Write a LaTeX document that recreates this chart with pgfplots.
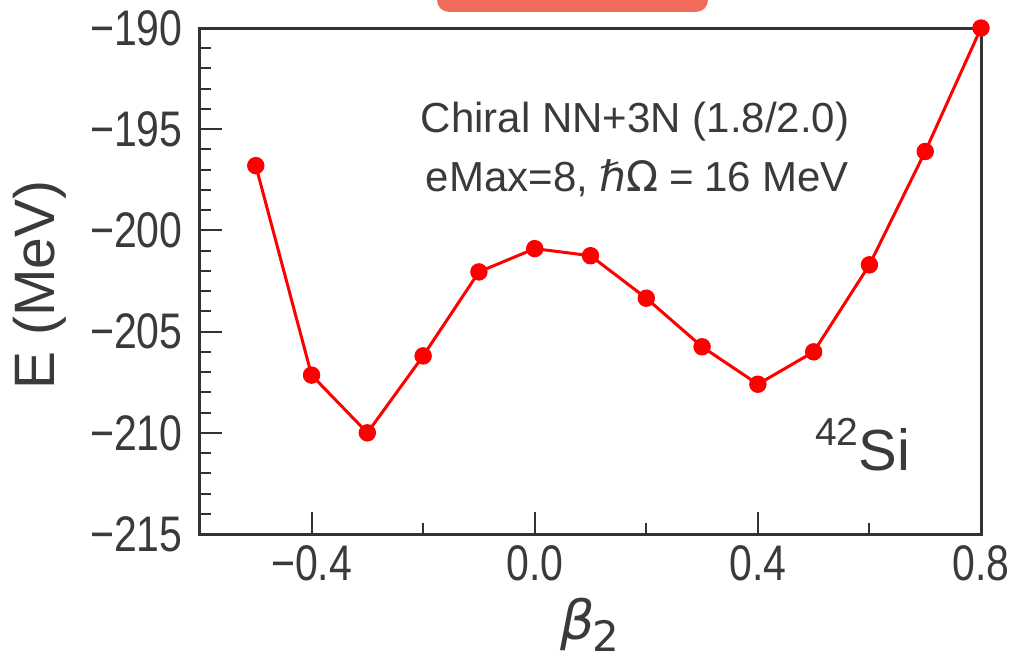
\documentclass[border=0pt]{standalone}
\usepackage{fontspec}
\setmainfont{Liberation Sans}
\newfontfamily\tickfont[FakeStretch=0.82]{Liberation Sans}
\newfontfamily\dejavu{DejaVu Sans}
\usepackage{pgfplots}
\pgfplotsset{compat=1.18}
\definecolor{axisgray}{HTML}{333333}
\definecolor{textgray}{HTML}{3A3A3A}
\definecolor{tabred}{RGB}{242,108,92}

\pgfplotstableread{
beta   E
-0.5  -196.8
-0.4  -207.15
-0.3  -210.0
-0.2  -206.2
-0.1  -202.05
 0.0  -200.9
 0.1  -201.25
 0.2  -203.35
 0.3  -205.75
 0.4  -207.6
 0.5  -206.0
 0.6  -201.7
 0.7  -196.1
 0.8  -190.0
}\energy

\begin{document}
\begin{tikzpicture}
\useasboundingbox (-100pt,-63pt) rectangle (407.5pt,267pt);
% tab at the top edge
\fill[tabred, rounded corners=6pt] (118.5pt,261pt) rectangle (254pt,290pt);
\begin{axis}[
  at={(0,0)}, anchor=south west,
  scale only axis, width=390.5pt, height=253pt,
  xmin=-0.6, xmax=0.8, ymin=-215, ymax=-190,
  axis line style={axisgray, line width=1.5pt},
  tick style={axisgray, line width=1pt},
  tick align=inside, tick pos=left,
  major tick length=11pt, minor tick length=5.5pt,
  xtick={-0.4,0,0.4,0.8}, minor xtick={-0.2,0.2,0.6},
  xticklabels={−0.4,0.0,0.4,0.8},
  ytick={-215,-210,-205,-200,-195,-190}, minor y tick num=4,
  yticklabels={−215,−210,−205,−200,−195,−190},
  xticklabel style={font=\tickfont\fontsize{25}{25}\selectfont, text=textgray, anchor=north, inner sep=0pt, yshift=-5.5pt},
  yticklabel style={font=\tickfont\fontsize{25}{25}\selectfont, text=textgray, anchor=east, inner sep=0pt, xshift=-8.5pt},
  clip=false,
]
\addplot[color=red, line width=1.5pt, mark=*, mark size=3.6pt, mark options={solid, fill=red, draw=red}]
  table[x=beta, y=E] {\energy};
\node[anchor=base, text=textgray, font=\fontsize{21}{21}\selectfont]
  at (rel axis cs:0.557,0.794) {Chiral NN+3N (1.8/2.0)};
\node[anchor=base, text=textgray, font=\fontsize{21}{21}\selectfont]
  at (rel axis cs:0.56,0.676) {eMax=8, {\dejavu\itshape ℏ}{\dejavu Ω}\hspace{0.25em}=\hspace{0.25em}16 MeV};
\node[anchor=base west, text=textgray, inner sep=0pt, font=\fontsize{29}{29}\selectfont]
  at (rel axis cs:0.787,0.126) {\raisebox{0.42em}{\fontsize{19.5}{19.5}\selectfont 42}Si};
\node[text=textgray, rotate=90, font=\fontsize{28.5}{28.5}\selectfont]
  at (-80pt,124.5pt) {E (MeV)};
\node[text=textgray, font=\fontsize{27}{27}\selectfont]
  at (195pt,-45.5pt) {{\dejavu\itshape β}\hspace{-0.05em}\raisebox{-0.22em}{\fontsize{21}{21}\selectfont\dejavu 2}};
\end{axis}
\end{tikzpicture}
\end{document}
